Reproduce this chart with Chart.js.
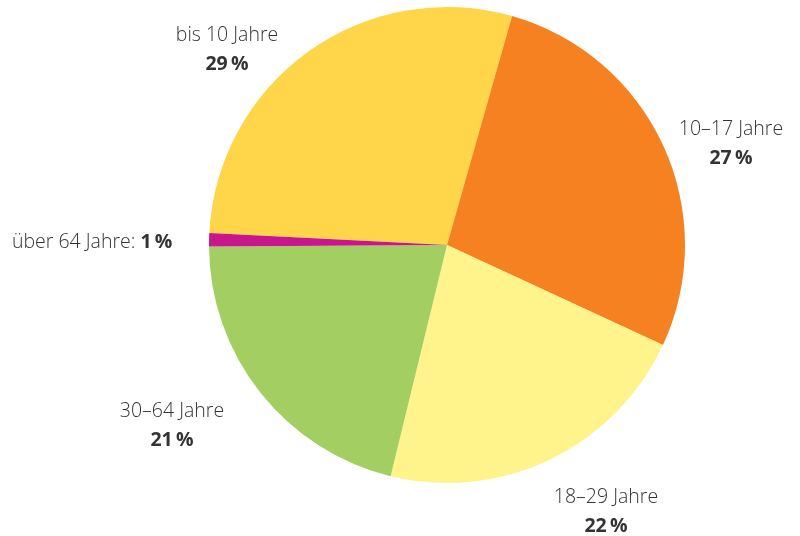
<!DOCTYPE html>
<html>
<head>
    <title>Altersverteilung</title>
    <script src="https://cdn.jsdelivr.net/npm/chart.js"></script>
    <style>
        body { margin: 0; background: #fff; }
        #wrap { position: relative; width: 800px; height: 536px; }
        .lbl {
            position: absolute;
            font-family: "Open Sans", sans-serif;
            font-weight: 300;
            font-size: 19.5px;
            line-height: 29px;
            color: #333;
            text-align: center;
            white-space: nowrap;
            transform: translateX(-50%);
        }
        .lbl b { font-weight: 700; }
    </style>
</head>
<body>
    <div id="wrap">
        <canvas id="chart" width="800" height="536"></canvas>
    </div>

    <script>
        // Data (shares in %)
        const categories = ['bis 10 Jahre', '10–17 Jahre', '18–29 Jahre', '30–64 Jahre', 'über 64 Jahre'];
        const shares = [28.6, 27.5, 21.9, 21.1, 0.9];
        const percentLabels = ['29\u2009%', '27\u2009%', '22\u2009%', '21\u2009%', '1\u2009%'];
        const colors = ['#FFD54A', '#F68121', '#FFF38C', '#A3CF62', '#C8168C'];

        // label anchors (center x, top y); last one is left aligned in one line
        const labelPos = [[227, 19], [731, 113], [606, 481], [172, 395], [12, 226]];

        const wrap = document.getElementById('wrap');
        categories.forEach((c, i) => {
            const div = document.createElement('div');
            div.className = 'lbl';
            div.style.left = labelPos[i][0] + 'px';
            div.style.top = labelPos[i][1] + 'px';
            if (i === 4) {
                div.style.transform = 'none';
                div.innerHTML = c + ': <b>' + percentLabels[i] + '</b>';
            } else {
                div.innerHTML = c + '<br><b>' + percentLabels[i] + '</b>';
            }
            wrap.appendChild(div);
        });

        const ctx = document.getElementById('chart').getContext('2d');
        new Chart(ctx, {
            type: 'pie',
            data: {
                labels: categories,
                datasets: [{
                    data: shares,
                    backgroundColor: colors,
                    borderWidth: 0
                }]
            },
            options: {
                responsive: false,
                animation: false,
                rotation: -87.1,
                layout: {
                    padding: { left: 209, right: 115, top: 7, bottom: 53 }
                },
                plugins: {
                    legend: { display: false },
                    tooltip: { enabled: false }
                }
            }
        });
    </script>
</body>
</html>
